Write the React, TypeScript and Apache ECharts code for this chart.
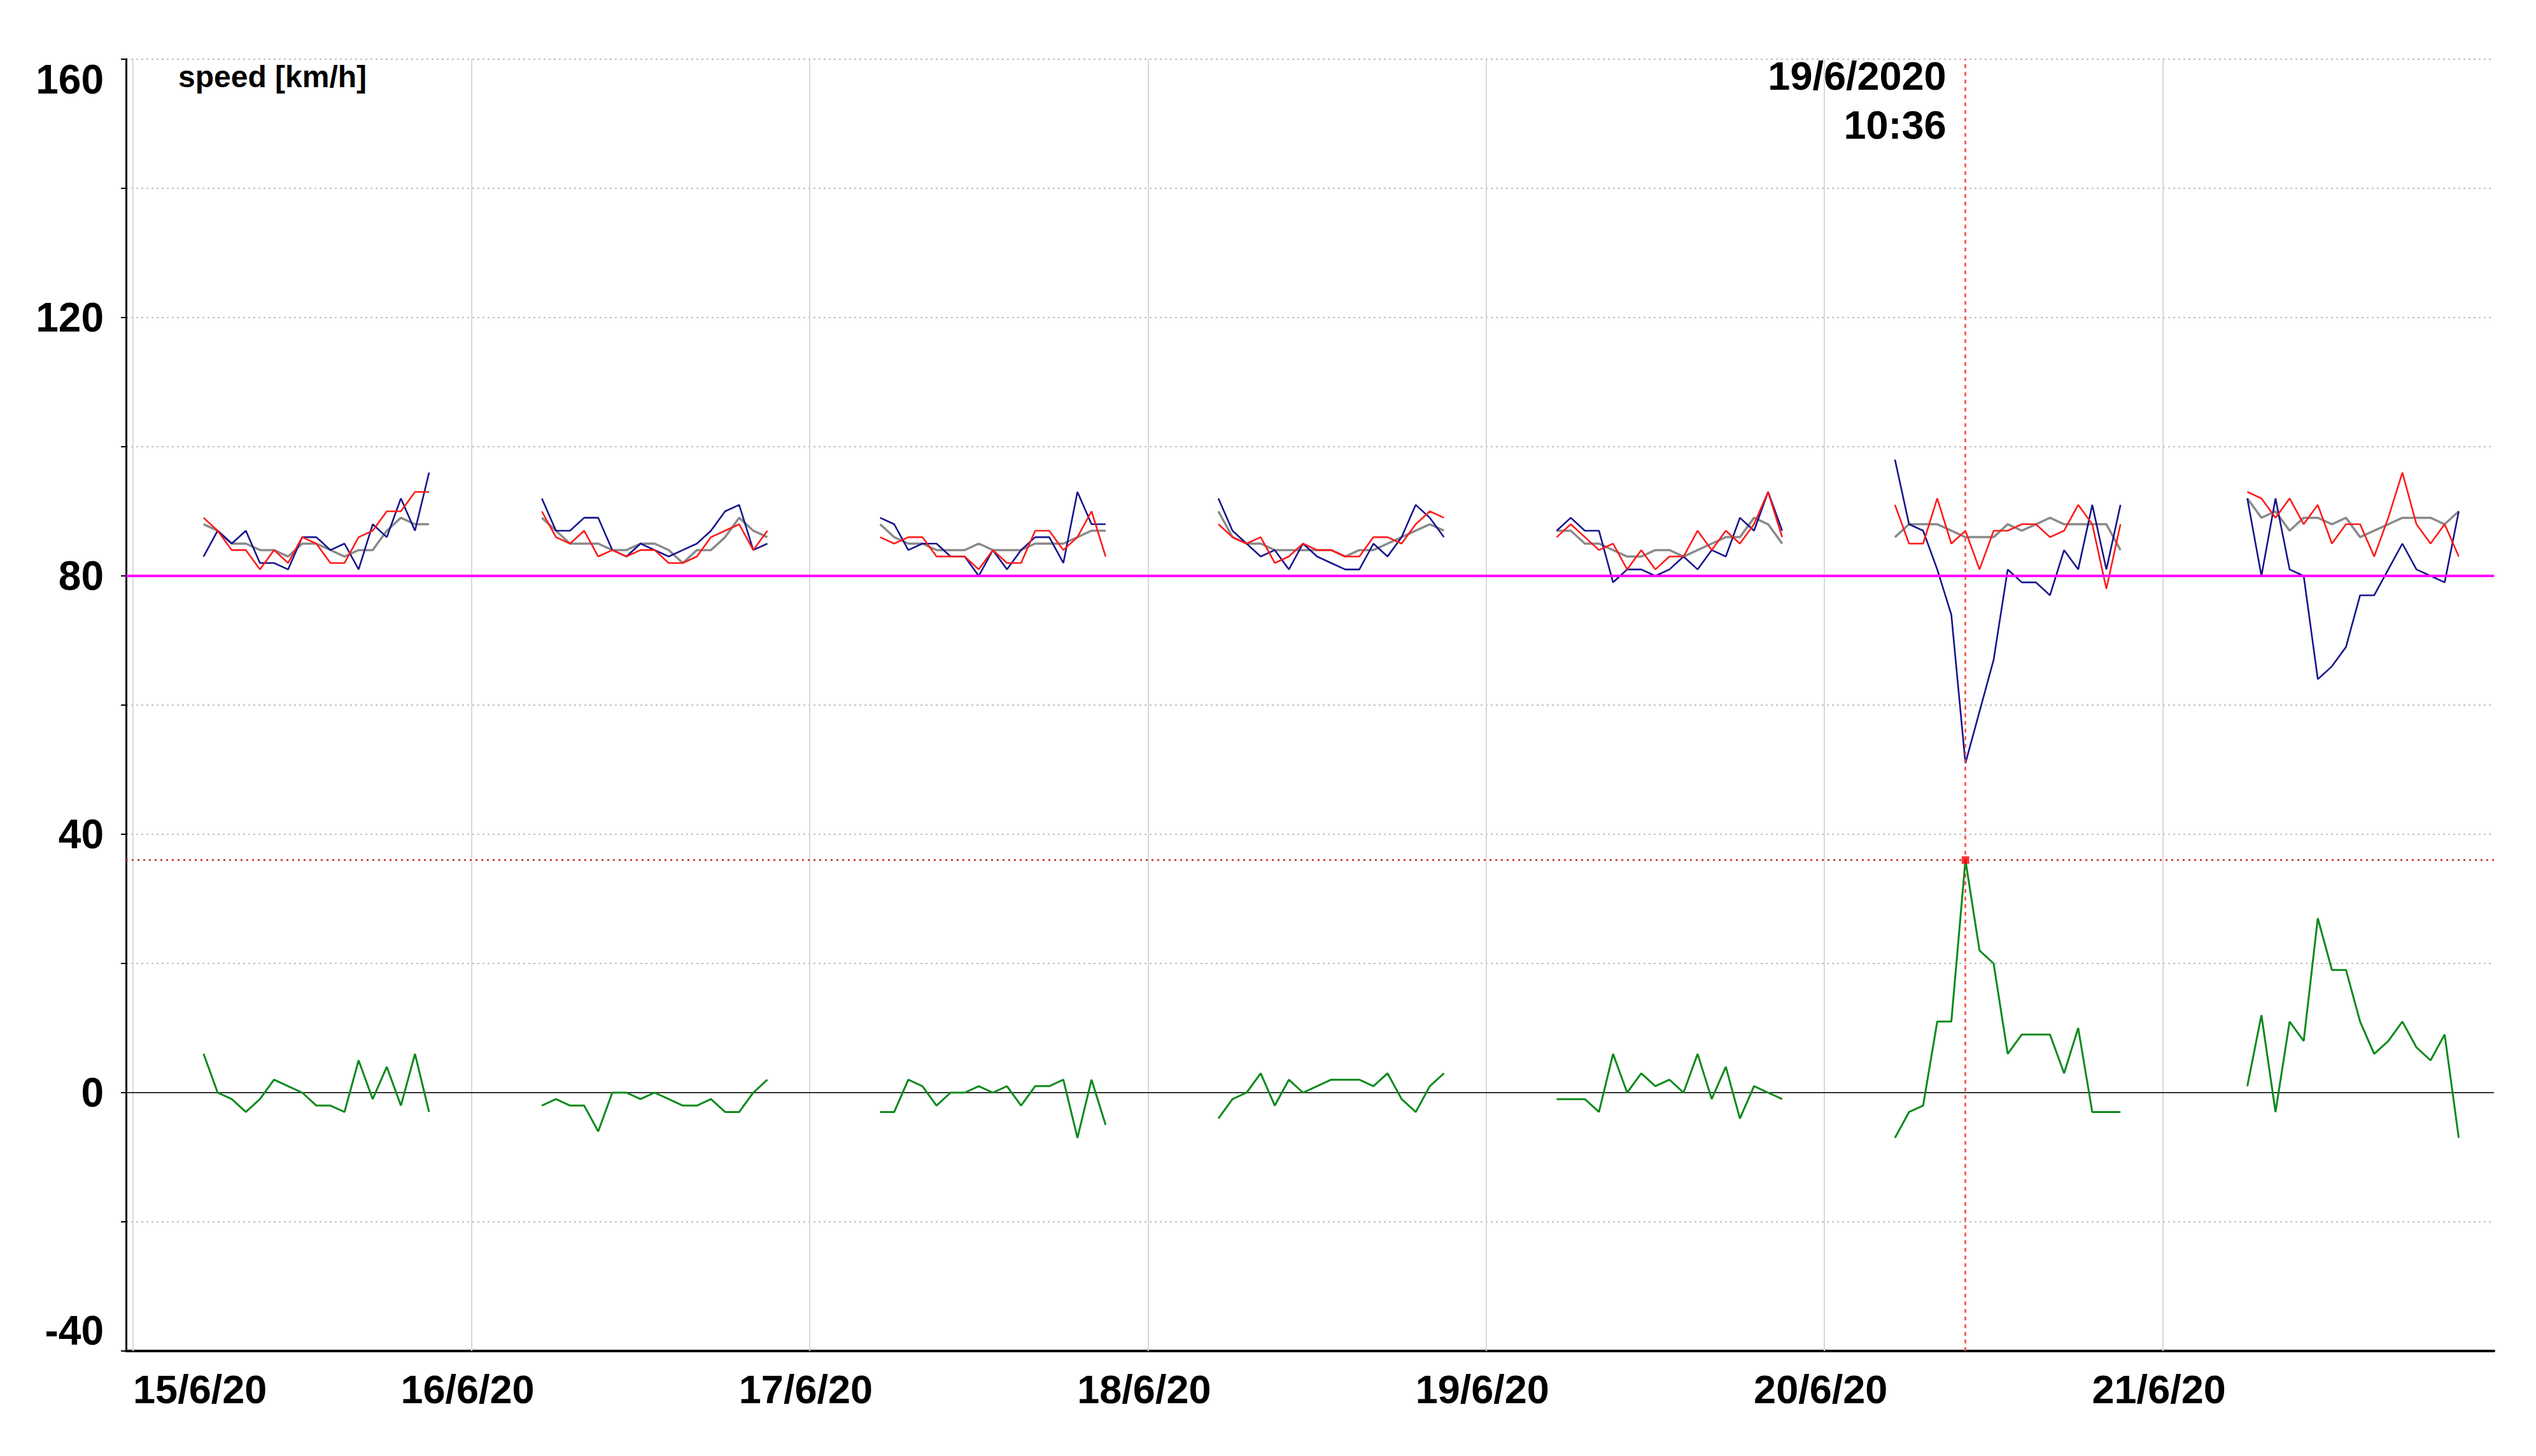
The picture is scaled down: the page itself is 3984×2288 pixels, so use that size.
import React, { useEffect, useRef } from 'react';
import * as echarts from 'echarts';

// ---- data ----
const DAYS = [15, 16, 17, 18, 19, 20, 21]; // June 2020
const FIRST_HOUR = [5, 5, 5, 5, 5, 5, 6];

// measured speed (navy)
const measuredSpeed = [
  [83, 87, 85, 87, 82, 82, 81, 86, 86, 84, 85, 81, 88, 86, 92, 87, 96],
  [92, 87, 87, 89, 89, 84, 83, 85, 84, 83, 84, 85, 87, 90, 91, 84, 85],
  [89, 88, 84, 85, 85, 83, 83, 80, 84, 81, 84, 86, 86, 82, 93, 88, 88],
  [92, 87, 85, 83, 84, 81, 85, 83, 82, 81, 81, 85, 83, 86, 91, 89, 86],
  [87, 89, 87, 87, 79, 81, 81, 80, 81, 83, 81, 84, 83, 89, 87, 93, 87],
  [98, 88, 87, 81, 74, 51, 59, 67, 81, 79, 79, 77, 84, 81, 91, 81, 91],
  [92, 80, 92, 81, 80, 64, 66, 69, 77, 77, 81, 85, 81, 80, 79, 90],
];
// reference speed (red)
const referenceSpeed = [
  [89, 87, 84, 84, 81, 84, 82, 86, 85, 82, 82, 86, 87, 90, 90, 93, 93],
  [90, 86, 85, 87, 83, 84, 83, 84, 84, 82, 82, 83, 86, 87, 88, 84, 87],
  [86, 85, 86, 86, 83, 83, 83, 81, 84, 82, 82, 87, 87, 84, 86, 90, 83],
  [88, 86, 85, 86, 82, 83, 85, 84, 84, 83, 83, 86, 86, 85, 88, 90, 89],
  [86, 88, 86, 84, 85, 81, 84, 81, 83, 83, 87, 84, 87, 85, 88, 93, 86],
  [91, 85, 85, 92, 85, 87, 81, 87, 87, 88, 88, 86, 87, 91, 88, 78, 88],
  [93, 92, 89, 92, 88, 91, 85, 88, 88, 83, 89, 96, 88, 85, 88, 83],
];
// average speed (grey)
const averageSpeed = [
  [88, 87, 85, 85, 84, 84, 83, 85, 85, 84, 83, 84, 84, 87, 89, 88, 88],
  [89, 87, 85, 85, 85, 84, 84, 85, 85, 84, 82, 84, 84, 86, 89, 87, 86],
  [88, 86, 85, 85, 84, 84, 84, 85, 84, 84, 84, 85, 85, 85, 86, 87, 87],
  [90, 86, 85, 85, 84, 84, 84, 84, 84, 83, 84, 84, 85, 86, 87, 88, 87],
  [87, 87, 85, 85, 84, 83, 83, 84, 84, 83, 84, 85, 86, 86, 89, 88, 85],
  [86, 88, 88, 88, 87, 86, 86, 86, 88, 87, 88, 89, 88, 88, 88, 88, 84],
  [92, 89, 90, 87, 89, 89, 88, 89, 86, 87, 88, 89, 89, 89, 88, 90],
];
// difference (green)
const speedDifference = [
  [6, 0, -1, -3, -1, 2, 1, 0, -2, -2, -3, 5, -1, 4, -2, 6, -3],
  [-2, -1, -2, -2, -6, 0, 0, -1, 0, -1, -2, -2, -1, -3, -3, 0, 2],
  [-3, -3, 2, 1, -2, 0, 0, 1, 0, 1, -2, 1, 1, 2, -7, 2, -5],
  [-4, -1, 0, 3, -2, 2, 0, 1, 2, 2, 2, 1, 3, -1, -3, 1, 3],
  [-1, -1, -1, -3, 6, 0, 3, 1, 2, 0, 6, -1, 4, -4, 1, 0, -1],
  [-7, -3, -2, 11, 11, 36, 22, 20, 6, 9, 9, 9, 3, 10, -3, -3, -3],
  [1, 12, -3, 11, 8, 27, 19, 19, 11, 6, 8, 11, 7, 5, 9, -7],
];

const SPEED_LIMIT = 80;
const CURSOR_TIME = Date.UTC(2020, 5, 20, 10, 0);
const CURSOR_VALUE = 36;
const CURSOR_LABEL = ['19/6/2020', '10:36'];
const Y_MIN = -40;
const Y_MAX = 160;
const Y_STEP = 20;
const X_MIN = Date.UTC(2020, 5, 14, 23, 30);
const X_MAX = Date.UTC(2020, 5, 21, 23, 30);
const DAY_STARTS = DAYS.map((d) => Date.UTC(2020, 5, d));

const FONT = "'Liberation Sans', Arial, Helvetica, sans-serif";

function buildSeries(values: number[][]) {
  const out: any[] = [];
  values.forEach((day, d) => {
    day.forEach((v, i) => out.push([Date.UTC(2020, 5, DAYS[d], FIRST_HOUR[d] + i), v]));
    out.push([Date.UTC(2020, 5, DAYS[d], 23), null]);
  });
  return out;
}

function fmtDay(v: number) {
  const dt = new Date(v);
  return `${dt.getUTCDate()}/${dt.getUTCMonth() + 1}/${String(dt.getUTCFullYear()).slice(2)}`;
}

export default function App() {
  const ref = useRef<HTMLDivElement>(null);

  useEffect(() => {
    if (!ref.current) return;
    const chart = echarts.init(ref.current, undefined, { renderer: 'svg' });
    const lineBase = { type: 'line', showSymbol: false, symbol: 'none', connectNulls: false, silent: true };

    chart.setOption({
      animation: false,
      backgroundColor: '#ffffff',
      grid: { left: 198, right: 66, top: 93, bottom: 165, containLabel: false },
      xAxis: {
        type: 'value',
        min: X_MIN,
        max: X_MAX,
        axisLine: { show: true, onZero: false, lineStyle: { color: '#000', width: 4 } },
        axisTick: { show: false },
        splitLine: { show: false },
        axisLabel: {
          customValues: DAY_STARTS,
          formatter: (v: number) => fmtDay(v),
          fontFamily: FONT,
          fontWeight: 'bold',
          fontSize: 63,
          color: '#000',
          margin: 28,
          padding: [0, 12, 0, 0],
          alignMinLabel: 'left',
        },
      },
      yAxis: {
        type: 'value',
        min: Y_MIN,
        max: Y_MAX,
        interval: Y_STEP,
        axisLine: { show: true, onZero: false, lineStyle: { color: '#000', width: 3 } },
        axisTick: { show: true, length: 8, lineStyle: { color: '#000', width: 2 } },
        splitLine: { show: true, lineStyle: { color: '#bdbdbd', width: 2, type: [3, 5] } },
        axisLabel: {
          formatter: (v: number) => (v % 40 === 0 ? String(v) : ''),
          fontFamily: FONT,
          fontWeight: 'bold',
          fontSize: 64,
          color: '#000',
          margin: 35,
          verticalAlignMaxLabel: 'top',
          verticalAlignMinLabel: 'bottom',
        },
      },
      series: [
        {
          ...lineBase,
          name: 'average speed',
          data: buildSeries(averageSpeed),
          lineStyle: { color: '#8a8a8a', width: 3.5 },
          itemStyle: { color: '#8a8a8a' },
          z: 2,
          markLine: {
            silent: true,
            symbol: ['none', 'none'],
            label: { show: false },
            animation: false,
            lineStyle: { color: '#d8d8d8', width: 2, type: 'solid' },
            data: [
              ...DAY_STARTS.map((t) => ({ xAxis: t })),
              { yAxis: 0, lineStyle: { color: '#333333', width: 2, type: 'solid' } },
              { yAxis: SPEED_LIMIT, lineStyle: { color: '#ff00ff', width: 4, type: 'solid' } },
            ],
          },
        },
        {
          ...lineBase,
          name: 'measured speed',
          data: buildSeries(measuredSpeed),
          lineStyle: { color: '#14148c', width: 2.6 },
          itemStyle: { color: '#14148c' },
          z: 3,
        },
        {
          ...lineBase,
          name: 'reference speed',
          data: buildSeries(referenceSpeed),
          lineStyle: { color: '#ff1a1a', width: 2.6 },
          itemStyle: { color: '#ff1a1a' },
          z: 4,
        },
        {
          ...lineBase,
          name: 'difference',
          data: buildSeries(speedDifference),
          lineStyle: { color: '#0b8a1c', width: 3 },
          itemStyle: { color: '#0b8a1c' },
          z: 5,
        },
        {
          type: 'scatter',
          name: 'cursor',
          silent: true,
          data: [[CURSOR_TIME, CURSOR_VALUE]],
          symbol: 'rect',
          symbolSize: 12,
          itemStyle: { color: '#ff0000' },
          z: 7,
          markLine: {
            silent: true,
            symbol: ['none', 'none'],
            label: { show: false },
            animation: false,
            data: [
              { xAxis: CURSOR_TIME, lineStyle: { color: '#ff4040', width: 2.5, type: [6, 6] } },
              { yAxis: CURSOR_VALUE, lineStyle: { color: '#c8493c', width: 3, type: [3, 6] } },
            ],
          },
        },
      ],
    });

    const cx = chart.convertToPixel({ xAxisIndex: 0 }, CURSOR_TIME) as number;
    const textStyle = (text: string, size: number, align: string) => ({
      text,
      fill: '#000',
      fontFamily: FONT,
      fontWeight: 'bold',
      fontSize: size,
      align,
      textAlign: align,
      verticalAlign: 'middle',
      textVerticalAlign: 'middle',
    });
    chart.setOption({
      graphic: [
        { type: 'text', x: 280, y: 120, silent: true, style: textStyle('speed [km/h]', 48, 'left') },
        { type: 'text', x: cx - 30, y: 119, silent: true, style: textStyle(CURSOR_LABEL[0], 63, 'right') },
        { type: 'text', x: cx - 30, y: 196, silent: true, style: textStyle(CURSOR_LABEL[1], 63, 'right') },
      ],
    });

    return () => chart.dispose();
  }, []);

  return (
    <div
      ref={ref}
      style={{ position: 'fixed', left: 0, top: 0, width: 3984, height: 2288, background: '#fff' }}
    />
  );
}
